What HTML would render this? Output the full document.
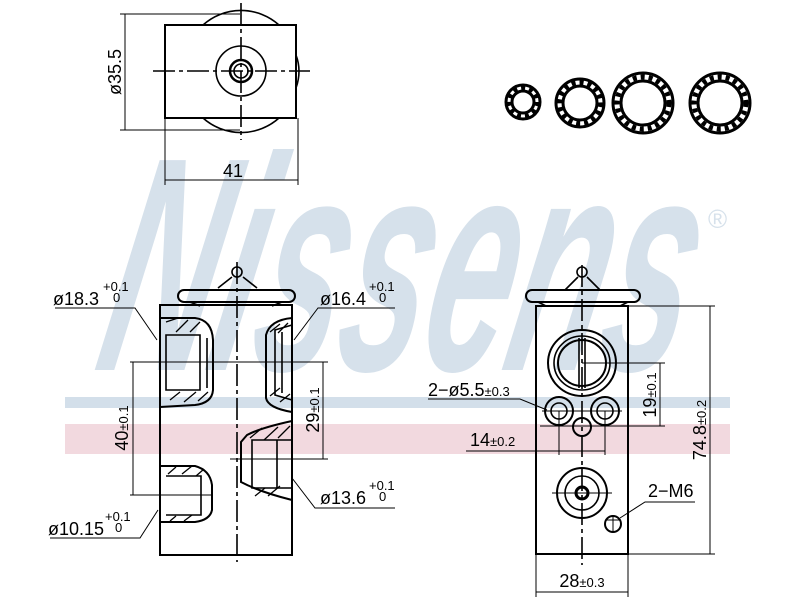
<!DOCTYPE html>
<html><head><meta charset="utf-8"><style>html,body{margin:0;padding:0;background:#fff}svg{display:block}</style></head><body>
<svg width="800" height="600" viewBox="0 0 800 600" xmlns="http://www.w3.org/2000/svg" font-family="Liberation Sans, sans-serif">
<!-- watermark -->
<rect x="65" y="397" width="665" height="11" fill="#d3dfea"/>
<rect x="65" y="424" width="665" height="30" fill="#f2d9df"/>
<g transform="translate(0 370) skewX(-12) translate(0 -370)">
<text x="92" y="370" font-size="305" font-weight="bold" font-style="italic" fill="#d6e1eb" textLength="585" lengthAdjust="spacingAndGlyphs">Nissens</text>
</g>
<text x="708" y="228" font-size="26" fill="#d6e1eb">®</text>

<g stroke="#000" fill="none" stroke-width="1.6">
<!-- top view -->
<path d="M203,25 A57,57 0 0 1 279,25"/><path d="M203,118 A57,57 0 0 0 279,118"/>
<path d="M296,55 Q302,71 296,88"/>
<rect x="165" y="25" width="131" height="93" fill="#fff" stroke-width="2"/>
<circle cx="241" cy="71" r="25"/>
<circle cx="241" cy="71" r="11" stroke-width="2.5"/>
<circle cx="241" cy="71" r="7"/>
<line x1="241" y1="3" x2="241" y2="140" stroke-dasharray="22,4,4,4"/>
<line x1="153" y1="71" x2="310" y2="71" stroke-dasharray="22,4,4,4"/>
<line x1="120" y1="14" x2="240" y2="14" stroke-width="1"/>
<line x1="120" y1="130" x2="240" y2="130" stroke-width="1"/>
<line x1="125" y1="14" x2="125" y2="130" stroke-width="1"/>
<line x1="165" y1="118" x2="165" y2="185" stroke-width="1"/>
<line x1="298" y1="118" x2="298" y2="185" stroke-width="1"/>
<line x1="165" y1="180" x2="298" y2="180" stroke-width="1"/>

<!-- o-rings -->
<g stroke-width="3">
<circle cx="523" cy="102" r="17"/><circle cx="523" cy="102" r="11"/>
<circle cx="580" cy="103" r="24"/><circle cx="580" cy="103" r="17"/>
<circle cx="643" cy="103" r="30"/><circle cx="643" cy="103" r="22"/>
<circle cx="720" cy="103" r="30"/><circle cx="720" cy="103" r="22"/>
</g>
<g stroke-width="5" stroke-dasharray="4,4">
<circle cx="523" cy="102" r="14"/><circle cx="580" cy="103" r="20.5"/>
<circle cx="643" cy="103" r="26"/><circle cx="720" cy="103" r="26"/>
</g>

<!-- left view -->
<rect x="178" y="290" width="117" height="12" rx="6" stroke-width="2"/>
<path d="M190,302 L200,306 M282,302 L272,306"/>
<path d="M218,288 L232,277 M257,288 L243,277"/>
<circle cx="237" cy="272" r="5"/>
<rect x="160" y="305" width="132" height="250" stroke-width="2"/>
<line x1="237" y1="262" x2="237" y2="562" stroke-dasharray="22,4,4,4"/>
<path d="M160,318 L195,318 Q212,320 213,340 L213,390 Q212,403 195,405 L160,407" stroke-width="2"/>
<path d="M166,335 L200,335 L200,390 L166,390 Z"/><line x1="207" y1="338" x2="207" y2="388"/>
<path d="M166,322 l12,-4 M176,332 l12,-12 M190,332 l10,-10 M170,400 l10,-8 M184,402 l12,-10 M198,401 l10,-9" stroke-width="1.3"/>
<path d="M160,466 L195,466 Q210,470 212,485 L212,510 Q210,520 195,522 L160,522" stroke-width="2"/>
<path d="M166,476 L201,476 L201,515 L166,515"/>
<path d="M168,474 l8,-7 M182,474 l10,-8 M196,476 l8,-7 M170,521 l6,-5 M184,521 l8,-6" stroke-width="1.3"/>
<path d="M292,318 Q270,320 266,335 L266,398 Q268,408 292,412" stroke-width="2"/>
<path d="M292,325 L275,330 L275,395 L292,400 M282,332 L282,393"/>
<path d="M270,332 l10,-8 M278,333 l10,-10 M270,396 l10,-8 M280,402 l10,-8" stroke-width="1.3"/>
<path d="M292,421 Q260,428 247,435 L241,442 L241,482 Q260,492 292,500" stroke-width="2"/>
<path d="M252,440 L292,440 L292,488 L252,488 Z M277,440 L277,488"/>
<path d="M250,438 l12,-10 M264,440 l14,-13 M278,438 l12,-12 M255,496 l10,-8 M268,496 l12,-10" stroke-width="1.3"/>
<g stroke-width="1">
<line x1="130" y1="362" x2="328" y2="362"/>
<line x1="130" y1="495" x2="212" y2="495"/>
<line x1="230" y1="459" x2="328" y2="459"/>
<line x1="133" y1="362" x2="133" y2="495"/>
<line x1="323" y1="362" x2="323" y2="459"/>
<polyline points="55,308 135,308 157,340"/>
<polyline points="395,308 318,308 294,340"/>
<polyline points="395,508 315,508 292,478"/>
<polyline points="50,538 140,538 158,510"/>
</g>

<!-- right view -->
<rect x="526" y="290" width="114" height="12" rx="6" stroke-width="2"/>
<path d="M538,302 L546,306 M628,302 L620,306"/>
<path d="M565,290 L578,277 M600,290 L587,277"/>
<circle cx="582" cy="272" r="5"/>
<rect x="536" y="306" width="92" height="248" stroke-width="2"/>
<line x1="582" y1="265" x2="582" y2="565" stroke-dasharray="22,4,4,4"/>
<ellipse cx="582" cy="363" rx="34" ry="33" stroke-width="2"/>
<ellipse cx="582" cy="363" rx="28" ry="27"/>
<ellipse cx="582" cy="363" rx="24" ry="23" stroke-width="2"/>
<line x1="579" y1="338" x2="579" y2="388"/><line x1="585" y1="338" x2="585" y2="388"/>
<circle cx="559" cy="411" r="14" stroke-width="2"/><circle cx="559" cy="411" r="8"/>
<circle cx="605" cy="411" r="14" stroke-width="2"/><circle cx="605" cy="411" r="8"/>
<circle cx="582" cy="427" r="9" stroke-width="2"/>
<circle cx="582" cy="493" r="25" stroke-width="2"/><circle cx="582" cy="493" r="17"/>
<circle cx="582" cy="493" r="6" stroke-width="3"/>
<line x1="552" y1="493" x2="612" y2="493" stroke-width="1"/>
<circle cx="613" cy="524" r="8" stroke-width="2"/>
<g stroke-width="1">
<line x1="542" y1="411" x2="622" y2="411"/>
<line x1="605" y1="520" x2="621" y2="520"/><line x1="613" y1="516" x2="613" y2="532"/>
<line x1="582" y1="363" x2="665" y2="363"/>
<line x1="540" y1="426" x2="665" y2="426"/>
<line x1="660" y1="363" x2="660" y2="426"/>
<line x1="628" y1="306" x2="715" y2="306"/>
<line x1="628" y1="554" x2="715" y2="554"/>
<line x1="710" y1="306" x2="710" y2="554"/>
<line x1="559" y1="411" x2="559" y2="455"/>
<line x1="605" y1="411" x2="605" y2="455"/>
<line x1="466" y1="451" x2="605" y2="451"/>
<line x1="536" y1="554" x2="536" y2="597"/>
<line x1="628" y1="554" x2="628" y2="597"/>
<line x1="536" y1="592" x2="628" y2="592"/>
<polyline points="428,399 520,399 547,410"/>
<polyline points="695,502 645,502 620,518"/>
</g>
</g>

<g fill="#000" font-size="18">
<text transform="translate(121 72) rotate(-90)" text-anchor="middle">ø35.5</text>
<text x="233" y="177" text-anchor="middle">41</text>
<text x="53" y="305">ø18.3</text><text x="103" y="291" font-size="13">+0.1</text><text x="113" y="302" font-size="13">0</text>
<text x="320" y="305">ø16.4</text><text x="369" y="291" font-size="13">+0.1</text><text x="379" y="302" font-size="13">0</text>
<text x="320" y="504">ø13.6</text><text x="369" y="490" font-size="13">+0.1</text><text x="379" y="501" font-size="13">0</text>
<text x="48" y="535">ø10.15</text><text x="105" y="521" font-size="13">+0.1</text><text x="115" y="532" font-size="13">0</text>
<text transform="translate(128 428) rotate(-90)" text-anchor="middle">40<tspan font-size="13">±0.1</tspan></text>
<text transform="translate(319 410) rotate(-90)" text-anchor="middle">29<tspan font-size="13">±0.1</tspan></text>
<text x="428" y="396">2−ø5.5<tspan font-size="13">±0.3</tspan></text>
<text x="470" y="446">14<tspan font-size="13">±0.2</tspan></text>
<text transform="translate(656 395) rotate(-90)" text-anchor="middle">19<tspan font-size="13">±0.1</tspan></text>
<text transform="translate(706 430) rotate(-90)" text-anchor="middle">74.8<tspan font-size="13">±0.2</tspan></text>
<text x="648" y="497">2−M6</text>
<text x="582" y="587" text-anchor="middle">28<tspan font-size="13">±0.3</tspan></text>
</g>
</svg>
</body></html>
